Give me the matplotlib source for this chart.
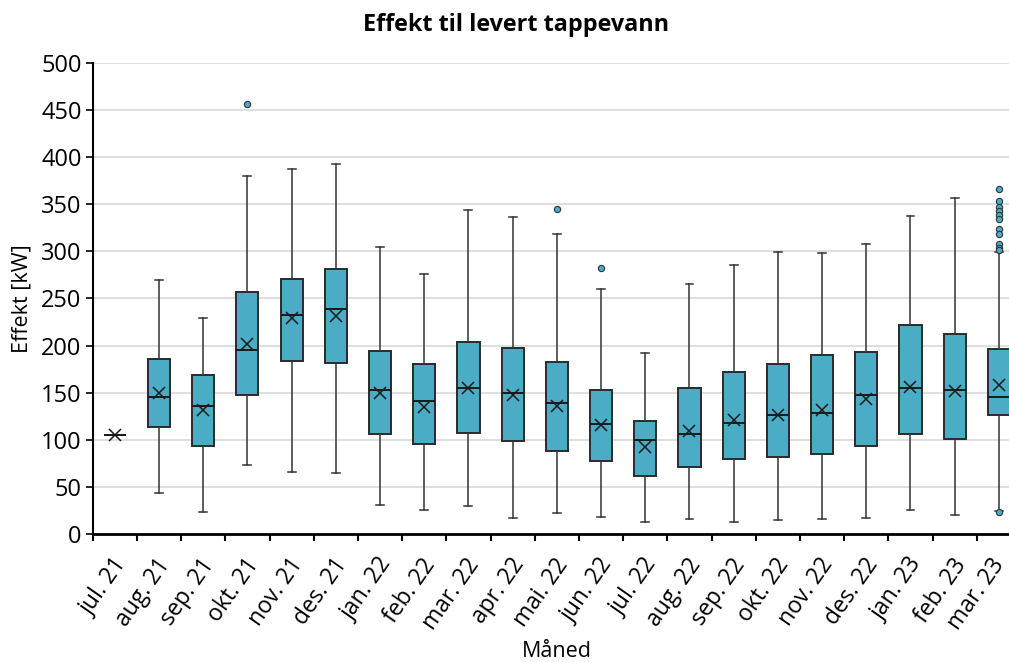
import numpy as np
import matplotlib
matplotlib.use('Agg')
import matplotlib.pyplot as plt
from matplotlib.transforms import ScaledTranslation

plt.rcParams['font.family'] = ['Open Sans', 'DejaVu Sans']

months = ['jul. 21', 'aug. 21', 'sep. 21', 'okt. 21', 'nov. 21', 'des. 21',
          'jan. 22', 'feb. 22', 'mar. 22', 'apr. 22', 'mai. 22', 'jun. 22',
          'jul. 22', 'aug. 22', 'sep. 22', 'okt. 22', 'nov. 22', 'des. 22',
          'jan. 23', 'feb. 23', 'mar. 23']

# box statistics per month [kW]
whislo = [105, 44, 24, 74, 66, 65, 31, 26, 30, 17, 23, 18, 13, 16, 13, 15, 16, 17, 26, 20, 25]
q1 = [105, 114, 94, 148, 184, 182, 106, 96, 107, 99, 88, 78, 62, 71, 80, 82, 85, 94, 106, 101, 127]
med = [105, 146, 136, 195, 233, 239, 153, 141, 155, 150, 139, 117, 100, 106, 118, 127, 129, 148, 155, 153, 146]
q3 = [105, 186, 169, 257, 271, 281, 194, 181, 204, 197, 183, 153, 120, 155, 172, 181, 190, 193, 222, 212, 196]
whishi = [105, 270, 229, 380, 387, 393, 305, 276, 344, 336, 318, 260, 192, 265, 286, 299, 298, 308, 337, 357, 299]
means = [105, 150, 132, 202, 229, 231, 150, 135, 155, 148, 136, 116, 93, 109, 121, 127, 132, 143, 156, 152, 158]
fliers = [[], [], [], [456], [], [], [], [], [], [], [345], [282], [], [], [], [], [], [], [], [],
          [366, 353, 347, 343, 339, 334, 324, 318, 308, 304, 301, 24]]

stats = []
for i in range(len(months)):
    stats.append({'label': months[i], 'whislo': whislo[i], 'q1': q1[i], 'med': med[i],
                  'q3': q3[i], 'whishi': whishi[i], 'mean': means[i], 'fliers': fliers[i]})

box_color = '#4BACC6'

fig = plt.figure(figsize=(10.09, 6.62), dpi=100)
ax = fig.add_axes([0.0919, 0.1929, 0.92, 0.7124])

ax.bxp(stats, positions=np.arange(len(months)), widths=0.5, capwidths=0.18,
       showmeans=True, patch_artist=True,
       boxprops=dict(facecolor=box_color, edgecolor='#2b2b2b', linewidth=1.4),
       medianprops=dict(color='#1a1a1a', linewidth=1.4),
       whiskerprops=dict(color='#333333', linewidth=1.1),
       capprops=dict(color='#333333', linewidth=1.1),
       meanprops=dict(marker='x', markeredgecolor='#1a1a1a', markersize=9, markeredgewidth=1.1),
       flierprops=dict(marker='o', markerfacecolor=box_color, markeredgecolor='#333333',
                       markersize=4.5, markeredgewidth=0.8))

ax.set_xlim(-0.5, len(months) - 0.5)
ax.set_ylim(0, 500)
ax.set_yticks(np.arange(0, 501, 50))
ax.yaxis.grid(True, color='#d9d9d9', linewidth=1.2)
ax.set_axisbelow(True)

# month labels in the middle, tick marks on the boundaries
ax.set_xticks(np.arange(len(months)))
ax.set_xticklabels(months, rotation=55, ha='right', rotation_mode='anchor', fontsize=16.5)
ax.tick_params(axis='x', which='major', length=0, pad=14)
labels = ax.get_xticklabels()
for k, lbl in enumerate(labels):
    dx = -3 if k < len(labels) - 1 else -9   # keep the last one inside the figure
    lbl.set_transform(lbl.get_transform() + ScaledTranslation(dx / 100, 0, fig.dpi_scale_trans))
ax.set_xticks(np.arange(len(months) + 1) - 0.5, minor=True)
ax.tick_params(axis='x', which='minor', length=5, width=1.5, direction='out')
ax.tick_params(axis='y', labelsize=17, length=5, width=1.2, direction='out', pad=3)

for s in ['top', 'right']:
    ax.spines[s].set_visible(False)
ax.spines['left'].set_linewidth(1.5)
ax.spines['bottom'].set_linewidth(2)

ax.set_ylabel('Effekt [kW]', fontsize=15.5, labelpad=6)
ax.set_xlabel('Måned', fontsize=15.5, labelpad=5)
fig.text(0.511, 0.962, 'Effekt til levert tappevann', ha='center', va='center',
         fontsize=16.8, fontweight='bold')

fig.savefig('out.png', dpi=100)
